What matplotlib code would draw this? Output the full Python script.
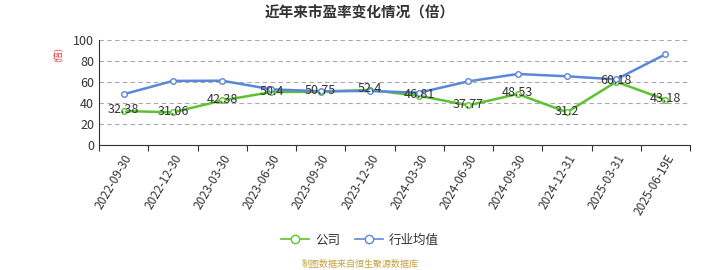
import matplotlib.pyplot as plt
from matplotlib.lines import Line2D

plt.rcParams['font.family'] = ['Noto Sans CJK SC', 'DejaVu Sans']

# 数据
dates = ['2022-09-30', '2022-12-30', '2023-03-30', '2023-06-30', '2023-09-30', '2023-12-30',
         '2024-03-30', '2024-06-30', '2024-09-30', '2024-12-31', '2025-03-31', '2025-06-19E']
company = [32.38, 31.06, 42.38, 50.4, 50.75, 52.4, 46.81, 37.77, 48.53, 31.2, 60.18, 43.18]
industry = [48.3, 61.0, 61.2, 53.0, 51.2, 51.4, 49.8, 60.6, 67.6, 65.4, 62.5, 86.4]

green = '#5cc22e'
blue = '#5b87d9'

fig = plt.figure(figsize=(7.2, 2.7), dpi=100)
ax = fig.add_axes([0.1375, 0.463, 0.821, 0.389])

x = list(range(len(dates)))
ax.plot(x, company, color=green, lw=1.8, marker='o', ms=4, mfc='white', mec=green, mew=1, zorder=3)
ax.plot(x, industry, color=blue, lw=1.8, marker='o', ms=4, mfc='white', mec=blue, mew=1, zorder=3)

for xi, v in zip(x, company):
    ax.text(xi, v + 1, f'{v:g}', ha='center', va='center', fontsize=9, color='#333333', zorder=4)

ax.set_xlim(-0.5, len(dates) - 0.5)
ax.set_ylim(0, 100)
ax.set_yticks([0, 20, 40, 60, 80, 100])
ax.yaxis.grid(True, ls=(0, (4, 3)), color='#aaaaaa', lw=0.8)
ax.set_axisbelow(True)

ax.set_xticks([i - 0.5 for i in range(len(dates) + 1)], minor=False)
ax.set_xticklabels([])
ax.set_xticks(x, minor=True)
ax.set_xticklabels(dates, minor=True, rotation=60, ha='right', rotation_mode='anchor',
                   fontsize=8.5, color='#333333')
ax.tick_params(axis='x', which='major', length=4, color='#333333')
ax.tick_params(axis='x', which='minor', length=0, pad=5)
ax.tick_params(axis='y', length=0, labelsize=9, colors='#333333')

for s in ['top', 'right']:
    ax.spines[s].set_visible(False)
ax.spines['left'].set_color('#333333')
ax.spines['bottom'].set_color('#333333')

fig.text(0.081, 0.8, '(倍)', rotation=90, color='#e03030', fontsize=6.5, ha='center', va='center')

fig.text(0.5, 0.955, '近年来市盈率变化情况（倍）', ha='center', va='center', fontsize=10.5,
         fontweight='bold', color='#333333')

handles = [Line2D([], [], color=green, marker='o', mfc='white', ms=6, lw=1.2),
           Line2D([], [], color=blue, marker='o', mfc='white', ms=6, lw=1.2)]
fig.legend(handles, ['公司', '行业均值'], loc='center', bbox_to_anchor=(0.5, 0.11), ncol=2,
           frameon=False, fontsize=9, handlelength=2.2, columnspacing=1.2, handletextpad=0.5,
           labelcolor='#333333')

fig.text(0.5, 0.02, '制图数据来自恒生聚源数据库', ha='center', va='center', fontsize=6.5, color='#c8a040')

fig.savefig('out.png', dpi=100)
